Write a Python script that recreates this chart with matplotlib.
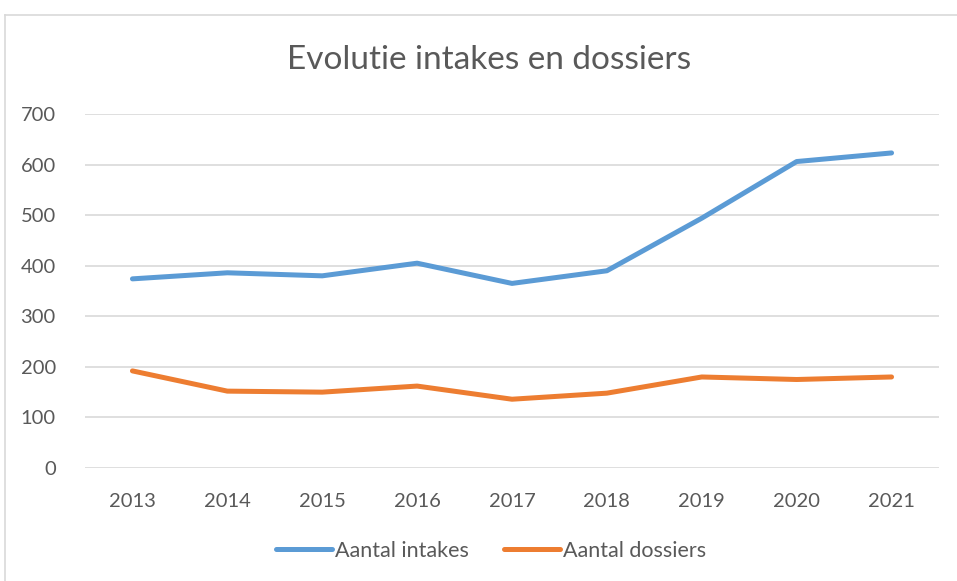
import matplotlib.pyplot as plt
from matplotlib.lines import Line2D

# data
years = ['2013', '2014', '2015', '2016', '2017', '2018', '2019', '2020', '2021']
intakes = [374, 386, 380, 405, 365, 390, 494, 606, 623]
dossiers = [192, 152, 150, 162, 136, 148, 180, 175, 180]

plt.rcParams['font.family'] = ['Lato', 'DejaVu Sans']
grey = '#595959'

fig = plt.figure(figsize=(9.57, 5.81), dpi=100)
ax = fig.add_axes([85/957, 1-468/581, (939-85)/957, (468-114)/581])

x = range(len(years))
ax.plot(x, intakes, color='#5B9BD5', lw=3.6, solid_capstyle='round', solid_joinstyle='round', label='Aantal intakes')
ax.plot(x, dossiers, color='#ED7D31', lw=3.6, solid_capstyle='round', solid_joinstyle='round', label='Aantal dossiers')

ax.set_xlim(-0.5, len(years) - 0.5)
ax.set_ylim(0, 700)
ax.set_yticks(range(0, 701, 100))
ax.set_xticks(list(x))
ax.set_xticklabels(years)
ax.grid(axis='y', color='#D9D9D9', lw=1.2)
ax.set_axisbelow(True)
for s in ax.spines.values():
    s.set_visible(False)
ax.tick_params(length=0, colors=grey, labelsize=14.5)
ax.tick_params(axis='y', pad=21)
ax.tick_params(axis='x', pad=18)

fig.text(489/957, 1-60/581, 'Evolutie intakes en dossiers', ha='center', va='center',
         fontsize=24, color=grey)

leg = fig.legend(loc='center', bbox_to_anchor=(491/957, 1-551/581), ncol=2, frameon=False,
                 fontsize=15.5, handlelength=2.6, columnspacing=1.6, handletextpad=0.15,
                 labelcolor=grey)

# chart frame (only top/left visible in the reference)
fig.add_artist(Line2D([5/957, 1], [1-15/581, 1-15/581], color='#D9D9D9', lw=1.2))
fig.add_artist(Line2D([5/957, 5/957], [0, 1-15/581], color='#D9D9D9', lw=1.2))

fig.savefig('out.png', dpi=100)
